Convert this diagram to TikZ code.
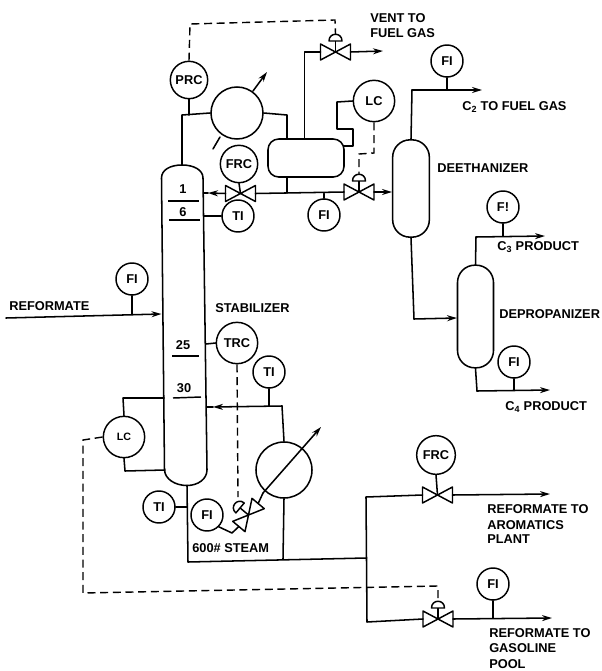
\documentclass[tikz,border=0pt]{standalone}
\usepackage{fontspec}
\setmainfont{Liberation Sans}
\usetikzlibrary{arrows.meta,calc}
\newcommand{\lfont}{\fontsize{9.6}{11}\selectfont\bfseries}
\tikzset{
  procline/.style={line width=1.15pt,line cap=round,line join=round},
  flowline/.style={procline,-{Stealth[length=7.5pt,width=4.5pt]}},
  sigline/.style={line width=1.05pt,dash pattern=on 6pt off 3.5pt},
  thinl/.style={line width=1.1pt,line join=round},
  inst/.style={circle,draw,line width=1.1pt,inner sep=0pt,minimum size=24pt,font=\lfont},
  instb/.style={inst,minimum size=31pt},
  instc/.style={inst,minimum size=28pt},
  exch/.style={circle,draw,line width=1.15pt,inner sep=0pt},
  vessel/.style={rectangle,draw,line width=1.15pt,inner sep=0pt},
  lab/.style={anchor=west,inner sep=0pt,font=\lfont},
  tray/.style={inner sep=0pt,font=\lfont},
  pics/valvebody/.style={code={
    \draw[thinl] (0,0)--(-15,-8)--(-15,8)--cycle;
    \draw[thinl] (0,0)--(15,-8)--(15,8)--cycle;
    \coordinate (-l) at (-15,0);
    \coordinate (-r) at (15,0);
    \coordinate (-c) at (0,0);
  }},
  pics/valveact/.style={code={
    \draw[thinl] (0,0)--(-15,-8)--(-15,8)--cycle;
    \draw[thinl] (0,0)--(15,-8)--(15,8)--cycle;
    \draw[thinl] (0,0)--(0,-11);
    \draw[thinl] (-6.5,-11) .. controls (-6.5,-20) and (6.5,-20) .. (6.5,-11) -- cycle;
    \coordinate (-l) at (-15,0);
    \coordinate (-r) at (15,0);
    \coordinate (-a) at (0,-18);
  }}
}
\begin{document}
\begin{tikzpicture}[x=0.75pt,y=-0.75pt]
\useasboundingbox (0,0) rectangle (601,671);

% stabilizer column
\draw[line width=1.15pt] (161.5,178) .. controls (161.5,170) and (170,165) .. (182,165)
  .. controls (194,165) and (203,170) .. (203,178)
  -- (207,470) .. controls (207,479) and (198,485.5) .. (187,485.5)
  .. controls (175,485.5) and (165,479) .. (164.5,470) -- cycle;
\coordinate (coltop) at (182,165);
\coordinate (colbot) at (187,485.5);
\coordinate (colrefl) at (203.5,193);
\coordinate (colti) at (203.5,216);
\coordinate (colfeed) at (161.5,314);
\coordinate (coltrc) at (206,344);
\coordinate (colret) at (206.5,407);
\coordinate (collc1) at (164,398);
\coordinate (collc2) at (165,470);

% tray marks
\node[tray] (t1) at (183,189) {1};
\node[tray] (t6) at (183,212) {6};
\node[tray] (t25) at (183,345) {25};
\node[tray] (t30) at (184,388) {30};
\draw[thinl] (168,201) -- (199,201);
\draw[thinl] (169,220) -- (200,220);
\draw[thinl] (172,356) -- (199,356);
\draw[thinl] (173,398) -- (201,397);

% instruments
\node[instc] (prc) at (189,80) {PRC};
\node[instc] (frc1) at (239,164) {FRC};
\node[inst] (ti1) at (238,216) {TI};
\node[inst] (fi2) at (324,215) {FI};
\node[instb] (lc1) at (374,101) {LC};
\node[inst] (fi3) at (447,61) {FI};
\node[inst] (fi4) at (503,207) {F!};
\node[inst] (fi5) at (514,362) {FI};
\node[inst] (fi1) at (132,279) {FI};
\node[instb] (trc) at (237,343) {TRC};
\node[inst] (ti2) at (269,372) {TI};
\node[instb,font=\fontsize{8}{10}\selectfont\bfseries] (lc2) at (124,437) {LC};
\node[inst] (ti3) at (159,507) {TI};
\node[inst] (fi6) at (207,515) {FI};
\node[instc,minimum size=29pt] (frc2) at (436,455) {FRC};
\node[inst] (fi7) at (493,584) {FI};

% equipment
\node[exch,minimum size=39pt] (cond) at (237,113) {};
\node[exch,minimum size=42pt] (reb) at (284,470) {};
\node[vessel,minimum width=57pt,minimum height=28.5pt,rounded corners=8pt] (drum) at (306,158) {};
\node[vessel,minimum width=27.5pt,minimum height=73pt,rounded corners=13pt] (deeth) at (411,188.5) {};
\node[vessel,minimum width=27pt,minimum height=77pt,rounded corners=13pt] (deprop) at (475.5,316.5) {};

% valves
\pic (vv) at (335.5,52) {valveact};
\pic (vf) at (240.5,193.5) {valvebody};
\pic (vl) at (359,192) {valveact};
\pic (vs) at (248.5,515) [rotate=50] {valveact};
\pic (va) at (437.5,495) {valvebody};
\pic (vg) at (438,619) {valveact};

% overhead system
\coordinate (ovh) at (182,115);
\draw[procline] (coltop) -- (ovh) -- (cond.west);
\draw[procline] (prc.south) -- (prc.south |- ovh);
\coordinate (c1) at (287,115);
\draw[procline] (cond.east) -- (c1) -- (c1 |- drum.north);
\coordinate (cta) at (220,137);
\coordinate (ctb) at (213,149);
\draw[procline] (cta) -- (ctb);
\coordinate (cha) at (253,91);
\coordinate (chb) at (267,72);
\draw[flowline] (cha) -- (chb);

% vent
\coordinate (dv) at (304.5,139);
\coordinate (dve) at (304.5,52);
\draw[procline] (dv) -- (dve) -- (vv-l);
\coordinate (ventend) at (383,51);
\draw[flowline] (vv-r) -- (ventend);

% PRC signal
\coordinate (sg1) at (190,24);
\coordinate (sg2) at (335,20);
\draw[sigline] (prc.north) -- (sg1) -- (sg2) -- (vv-a);

% drum level
\coordinate (lc1a) at (337,102);
\coordinate (lc1b) at (337,129);
\coordinate (lc1c) at (353,129);
\coordinate (lc1d) at (353,146);
\coordinate (lc1e) at (343.5,146);
\draw[procline] (lc1.west) -- (lc1a) -- (lc1b) -- (lc1c) -- (lc1d) -- (lc1e);
\coordinate (lc1s1) at (376,153);
\coordinate (lc1s2) at (359,154);
\draw[sigline] (lc1.south) -- (lc1 |- lc1s1) -- (lc1s2) -- (vl-a);

% reflux and distillate
\coordinate (dd) at (287,177);
\coordinate (dj) at (287,193);
\draw[procline] (dd) -- (dj);
\draw[procline] (vf-r) -- (vl-l);
\coordinate (refltip) at (208,193);
\draw[flowline] (vf-l) -- (refltip);
\draw[procline] (refltip) -- (colrefl);
\draw[procline] (frc1.south) -- (vf-c);
\draw[procline] (colti) -- (ti1.west);
\draw[procline] (fi2.north) -- (fi2.north |- vf-r);
\coordinate (deein) at (392,192);
\draw[flowline] (vl-r) -- (deein);

% deethanizer
\coordinate (de1) at (412,90);
\coordinate (de2) at (482,90);
\draw[procline] (deeth.north) -- (de1);
\draw[flowline] (de1) -- (de2);
\draw[procline] (fi3.south) -- (fi3.south |- de1);
\coordinate (de3) at (414,319);
\coordinate (de4) at (457,318);
\draw[procline] (deeth.south) -- (de3);
\draw[flowline] (de3) -- (de4);

% depropanizer
\coordinate (dp1) at (476,237);
\coordinate (dp2) at (545,236);
\draw[procline] (deprop.north) -- (dp1);
\draw[flowline] (dp1) -- (dp2);
\draw[procline] (fi4.south) -- (fi4.south |- dp2);
\coordinate (dp3) at (477,391);
\coordinate (dp4) at (550,390);
\draw[procline] (deprop.south) -- (dp3);
\draw[flowline] (dp3) -- (dp4);
\draw[procline] (fi5.south) -- (fi5.south |- dp4);

% feed
\coordinate (fd) at (6,318);
\draw[flowline] (fd) -- (colfeed);
\draw[procline] (fi1.south) -- (fi1.south |- colfeed);

% stabilizer instruments
\draw[procline] (coltrc) -- (trc.west);
\coordinate (trcs) at (238,497);
\draw[sigline] (trc.south) -- (trcs);
\coordinate (rb1) at (282,406);
\coordinate (rettip) at (213,407);
\draw[procline] (reb.north) -- (rb1);
\draw[flowline] (rb1) -- (rettip);
\draw[procline] (rettip) -- (colret);
\draw[procline] (ti2.south) -- (ti2.south |- rb1);

% level controller
\coordinate (lc2a) at (123,398);
\coordinate (lc2b) at (125,471);
\draw[procline] (lc2.north) -- (lc2a) -- (collc1);
\draw[procline] (lc2.south) -- (lc2b) -- (collc2);

% reboiler heating
\coordinate (rd1) at (283,559);
\draw[procline] (reb.south) -- (rd1);
\coordinate (rta) at (263,493);
\coordinate (rtb) at (321,427);
\draw[flowline] (rta) -- (rtb);
\draw[procline] (vs-r) -- (rta);
\coordinate (fsa) at (232,533);
\draw[procline] (fi6.-45) -- (fsa) -- (vs-l);

% bottoms
\coordinate (bt) at (188,562);
\coordinate (bj) at (366.5,558);
\draw[procline] (colbot) -- (bt) -- (bj);
\draw[procline] (ti3.east) -- (ti3.east -| colbot);
\coordinate (tv) at (366,497);
\coordinate (bv) at (367,622);
\draw[procline] (va-l) -- (tv) -- (bv) -- (vg-l);
\draw[procline] (frc2.south) -- (va-c);
\coordinate (ae) at (550,494);
\draw[flowline] (va-r) -- (ae);
\coordinate (ge) at (552,618);
\draw[flowline] (vg-r) -- (ge);
\draw[procline] (fi7.south) -- (fi7.south |- ge);

% long level signal
\coordinate (ls1) at (83,440);
\coordinate (ls2) at (83,593);
\coordinate (ls3) at (438,586);
\draw[sigline] (lc2.west) -- (ls1) -- (ls2) -- (ls3) -- (vg-a);

% texts
\node[lab] (tvent) at (370,18) {VENT TO};
\node[lab] (tfuel) at (370,33) {FUEL GAS};
\node[lab] (tc2) at (462,107) {C\textsubscript{2} TO FUEL GAS};
\node[lab] (tdee) at (437,168) {DEETHANIZER};
\node[lab] (tc3) at (497,247) {C\textsubscript{3} PRODUCT};
\node[lab] (tdep) at (499,314) {DEPROPANIZER};
\node[lab] (tc4) at (505,407) {C\textsubscript{4} PRODUCT};
\node[lab] (tref) at (9,306) {REFORMATE};
\node[lab] (tsta) at (215,308) {STABILIZER};
\node[lab] (tst) at (192,548) {600\# STEAM};
\node[lab] (ta1) at (487,509) {REFORMATE TO};
\node[lab] (ta2) at (487,525) {AROMATICS};
\node[lab] (ta3) at (487,539) {PLANT};
\node[lab] (tg1) at (489,633) {REFORMATE TO};
\node[lab] (tg2) at (489,648) {GASOLINE};
\node[lab] (tg3) at (489,664) {POOL};
\end{tikzpicture}
\end{document}
